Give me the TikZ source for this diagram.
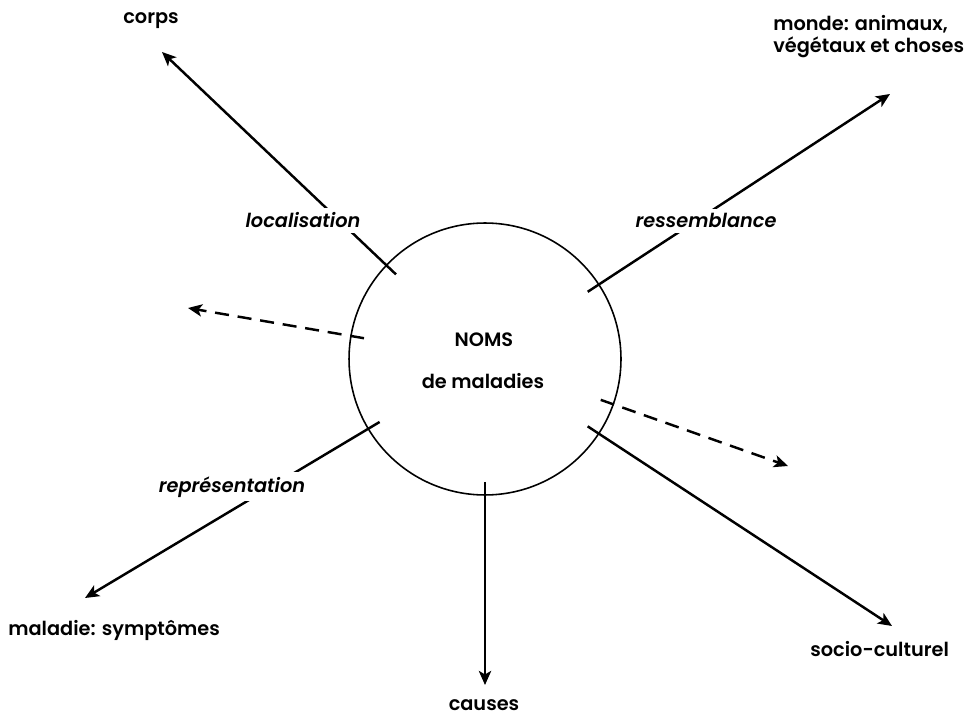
\documentclass[tikz,border=0pt]{standalone}
\usepackage{fontspec}
\setmainfont{Poppins}[BoldFont={Poppins SemiBold}, BoldItalicFont={Poppins SemiBold Italic}]
\usetikzlibrary{arrows.meta}

\begin{document}
\begin{tikzpicture}[x=0.02cm, y=-0.02cm, >={Stealth[length=8pt, width=7pt, inset=2pt]},
    every node/.style={inner sep=0pt, font=\fontsize{11}{12.5}\selectfont\bfseries},
    lien/.style={->, line width=1.4pt, shorten <=-0.28cm},
    pointille/.style={lien, dash pattern=on 8pt off 5pt},
    etiquette/.style={fill=white, inner xsep=1pt, inner ysep=2.5pt, font=\fontsize{11}{12.5}\selectfont\bfseries\itshape}]
    \useasboundingbox (0,0) rectangle (969,715);

    % le cercle central
    \node[circle, draw, line width=0.9pt, minimum size=5.44cm] (c) at (485,359) {};
    \node[anchor=base] (noms) at (484,347) {NOMS};
    \node[anchor=base] (demal) at (483,389) {de maladies};

    % les bouts des fleches
    \coordinate (tCorps) at (162,52);
    \coordinate (tMonde) at (890,94);
    \coordinate (tGauche) at (188,308);
    \coordinate (tDroite) at (788,466);
    \coordinate (tSocio) at (892,626);
    \coordinate (tMaladie) at (85,598);
    \coordinate (tCauses) at (485,685);

    % les textes au bout
    \node[anchor=base west] (corps) at (123,24) {corps};
    \node[anchor=north west, align=left] (monde) at (773,15) {monde: animaux,\\végétaux et choses};
    \node[anchor=base west] (maladie) at (8,635) {maladie: symptômes};
    \node[anchor=base west] (socio) at (810,656) {socio-culturel};
    \node[anchor=base] (causes) at (484,710) {causes};

    % les fleches
    \draw[lien] (c) -- (tCorps);
    \draw[lien] (c) -- (tMonde);
    \draw[pointille] (c) -- (tGauche);
    \draw[pointille] (c) -- (tDroite);
    \draw[lien] (c) -- (tSocio);
    \draw[lien] (c) -- (tMaladie);
    \draw[lien] (c) -- (tCauses);

    % les relations, par-dessus les traits
    \node[etiquette, anchor=base] (loc) at (303,228) {localisation};
    \node[etiquette, anchor=base] (ress) at (706,228) {ressemblance};
    \node[etiquette, anchor=base] (repr) at (232,492) {représentation};
\end{tikzpicture}
\end{document}
